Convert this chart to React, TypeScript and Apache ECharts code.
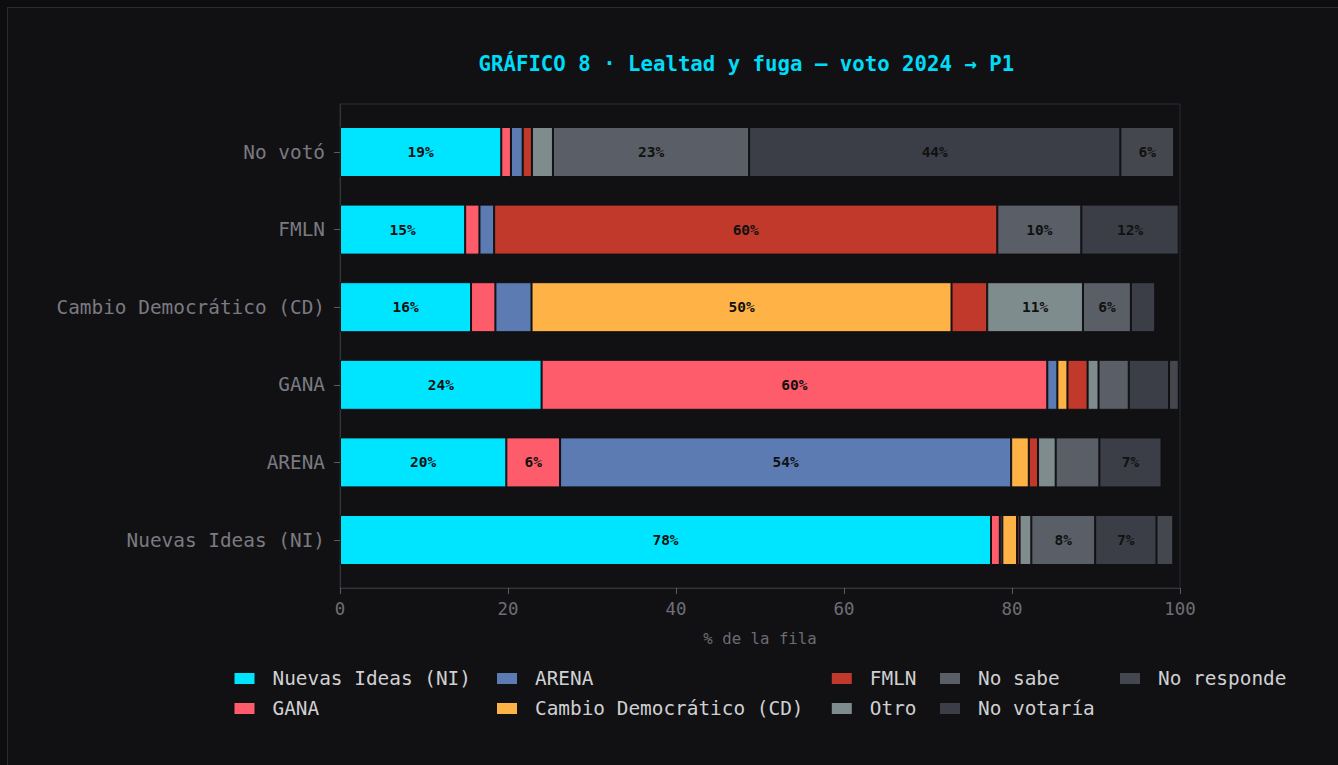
import React, { useEffect, useRef } from "react";
import * as echarts from "echarts";

// ---- data ----
const titleText = "GRÁFICO 8 · Lealtad y fuga — voto 2024 → P1";
const rowLabels = ["No votó", "FMLN", "Cambio Democrático (CD)", "GANA", "ARENA", "Nuevas Ideas (NI)"];
const seriesNames = [
  "Nuevas Ideas (NI)",
  "GANA",
  "ARENA",
  "Cambio Democrático (CD)",
  "FMLN",
  "Otro",
  "No sabe",
  "No votaría",
  "No responde",
];
const niVals = [19.2, 14.9, 15.6, 24.0, 19.8, 77.5];
const ganaVals = [1.15, 1.7, 2.9, 60.2, 6.4, 1.05];
const arenaVals = [1.4, 1.75, 4.3, 1.2, 53.7, 0.3];
const cdVals = [0, 0, 50.0, 1.2, 2.1, 1.75];
const fmlnVals = [1.1, 59.9, 4.25, 2.4, 1.1, 0.3];
const otroVals = [2.5, 0, 11.4, 1.3, 2.1, 1.4];
const noSabeVals = [23.35, 10.0, 5.7, 3.6, 5.2, 7.6];
const noVotariaVals = [44.2, 11.6, 2.9, 4.8, 7.4, 7.3];
const noRespondeVals = [6.4, 0, 0, 1.15, 0, 2.0];
const xMin = 0;
const xMax = 100;
const xInterval = 20;
const xAxisName = "% de la fila";
const labelThreshold = 5.5;

const seriesValues = [niVals, ganaVals, arenaVals, cdVals, fmlnVals, otroVals, noSabeVals, noVotariaVals, noRespondeVals];
const seriesColors = [
  "#00e5ff",
  "#ff5c6b",
  "#5b7bb2",
  "#ffb347",
  "#c0392b",
  "#7f8c8d",
  "#5a5e66",
  "#3b3e47",
  "#45474f",
];
const legendColumns = [
  ["Nuevas Ideas (NI)", "GANA"],
  ["ARENA", "Cambio Democrático (CD)"],
  ["FMLN", "Otro"],
  ["No sabe", "No votaría"],
  ["No responde"],
];

const FONT = "'DejaVu Sans Mono', monospace";
const BG = "#111114";
// chart origin sits at page (8, 8)
const OX = 8;
const OY = 8;
const legendLefts = [232.5, 495, 829.8, 938, 1118];

export default function App() {
  const ref = useRef<HTMLDivElement>(null);

  useEffect(() => {
    document.body.style.margin = "0";
    document.body.style.overflow = "hidden";
    document.body.style.background = "#0d0d10";
    if (!ref.current) return;
    const chart = echarts.init(ref.current, undefined, { renderer: "svg" });

    const frame = { left: 340 - OX, top: 104 - OY, width: 840, height: 484 };
    const band = 77.6;
    const barGrid = {
      left: frame.left,
      width: frame.width,
      top: 152 - band / 2 - OY,
      height: band * 6,
    };

    const series = seriesNames.map((name, i) => ({
      name,
      type: "bar",
      stack: "total",
      xAxisIndex: 1,
      yAxisIndex: 1,
      barWidth: 50,
      data: seriesValues[i].map((v) => (v > 0 ? v : null)),
      itemStyle: { color: seriesColors[i], borderColor: BG, borderWidth: 1 },
      label: {
        show: true,
        position: "inside",
        color: "#111111",
        fontFamily: FONT,
        fontWeight: "bold",
        fontSize: 14.5,
        formatter: (p: any) => (p.value != null && p.value >= labelThreshold ? Math.round(p.value) + "%" : ""),
      },
      emphasis: { disabled: true },
    }));

    const legends = legendColumns.map((col, i) => ({
      show: true,
      orient: "vertical",
      left: legendLefts[i] - OX - 5,
      top: 668 - OY - 4,
      itemWidth: 22,
      itemHeight: 13,
      itemGap: 11,
      icon: "rect",
      selectedMode: false,
      data: col,
      textStyle: {
        color: "#d0d0d2",
        fontFamily: FONT,
        fontSize: 19.4,
        padding: [0, 0, 0, 12],
      },
    }));

    chart.setOption({
      animation: false,
      backgroundColor: BG,
      graphic: [
        {
          type: "text",
          left: 745.6 - OX - 267,
          top: 65 - OY - 12,
          style: {
            text: titleText,
            fill: "#00dcf8",
            font: `bold 20.7px ${FONT}`,
          },
        },
      ],
      legend: legends,
      grid: [
        { ...frame, show: true, borderColor: "#2b2c32", borderWidth: 1, backgroundColor: "transparent" },
        { ...barGrid },
      ],
      xAxis: [
        {
          gridIndex: 0,
          type: "value",
          min: xMin,
          max: xMax,
          interval: xInterval,
          name: xAxisName,
          nameLocation: "middle",
          nameGap: 42,
          nameTextStyle: { color: "#6b6b71", fontFamily: FONT, fontSize: 15.7 },
          axisLine: { show: true, lineStyle: { color: "#34353b", width: 1 } },
          axisTick: { show: true, length: 6, lineStyle: { color: "#5c5c62" } },
          axisLabel: { color: "#6e6e74", fontFamily: FONT, fontSize: 17.4, margin: 12 },
          splitLine: { show: false },
        },
        {
          gridIndex: 1,
          type: "value",
          min: xMin,
          max: xMax,
          show: false,
        },
      ],
      yAxis: [
        {
          gridIndex: 0,
          type: "value",
          min: 0,
          max: 1,
          axisLine: { show: true, lineStyle: { color: "#34353b", width: 1 } },
          axisTick: { show: false },
          axisLabel: { show: false },
          splitLine: { show: false },
        },
        {
          gridIndex: 1,
          type: "category",
          inverse: true,
          data: rowLabels,
          axisLine: { show: false },
          axisTick: { show: true, alignWithLabel: true, length: 6, lineStyle: { color: "#5c5c62" } },
          axisLabel: { color: "#7a7a80", fontFamily: FONT, fontSize: 19.4, margin: 15 },
          splitLine: { show: false },
        },
      ],
      series,
    });

    return () => chart.dispose();
  }, []);

  return (
    <div
      ref={ref}
      style={{
        position: "absolute",
        left: 7,
        top: 7,
        width: 1340,
        height: 765,
        borderTop: "1px solid #2a2a30",
        borderLeft: "1px solid #2a2a30",
      }}
    />
  );
}
